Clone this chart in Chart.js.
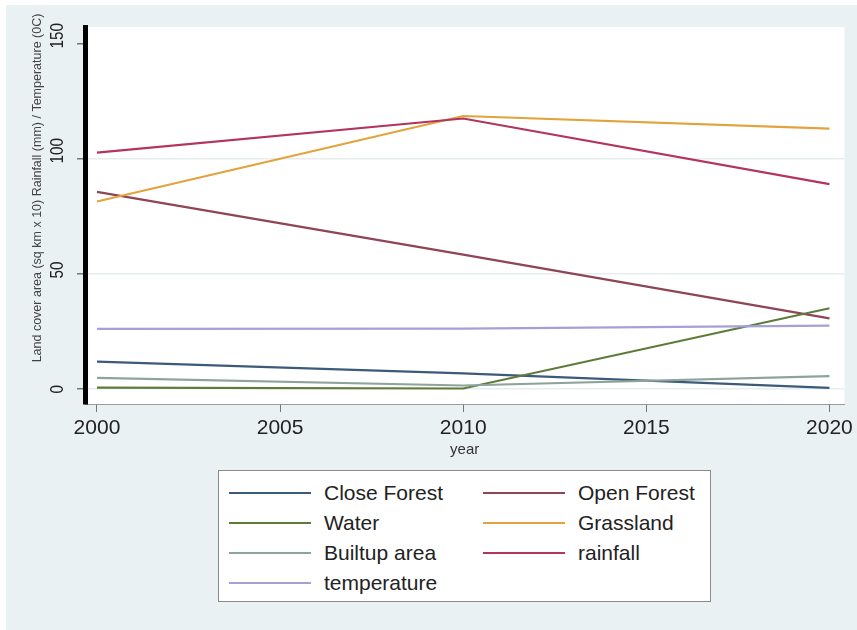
<!DOCTYPE html>
<html>
<head>
<meta charset="utf-8">
<script src="https://cdn.jsdelivr.net/npm/chart.js@4/dist/chart.umd.min.js"></script>
<style>
  html, body { margin: 0; padding: 0; background: #fff; }
  #wrap { position: relative; width: 857px; height: 630px; }
  #chart { position: absolute; left: 0; top: 0; }
  #legend {
    position: absolute; left: 218px; top: 470px; width: 493px; height: 132px;
    background: #fff; border: 1px solid #8a8a8a; box-sizing: border-box;
    font-family: "Liberation Sans", Arial, sans-serif; font-size: 21px; color: #222;
  }
  .item { position: absolute; height: 24px; line-height: 24px; white-space: nowrap; }
  .item .swatch { position: absolute; top: 11px; height: 2px; width: 82px; left: 0; }
  .item .label { position: absolute; left: 95px; top: 0; }
</style>
</head>
<body>
<div id="wrap">
  <canvas id="chart" width="857" height="630"></canvas>
  <div id="legend"></div>
</div>
<script>
// datos
const years = [2000, 2010, 2020];
const closeForest = [11.7, 6.6, 0.3];
const openForest = [85.5, 58.2, 30.5];
const water = [0.4, 0.0, 34.9];
const grassland = [81.3, 118.5, 113.0];
const builtup = [4.6, 1.3, 5.4];
const rainfall = [102.6, 117.4, 88.9];
const temperature = [25.9, 26.0, 27.3];

const seriesNames = ['Close Forest', 'Open Forest', 'Water', 'Grassland', 'Builtup area', 'rainfall', 'temperature'];
const seriesValues = [closeForest, openForest, water, grassland, builtup, rainfall, temperature];
const seriesColors = ['#3c5a7a', '#8e4656', '#5f7b3a', '#e3a23c', '#8ea399', '#b3345c', '#a6a0d6'];

const xTicks = [2000, 2005, 2010, 2015, 2020];
const yTicks = [0, 50, 100, 150];
const yTitle = 'Land cover area (sq km x 10) Rainfall (mm) / Temperature (0C)';
const xTitle = 'year';

const FONT = '"Liberation Sans", Arial, sans-serif';

// fondo estilo Stata + etiquetas verticales del eje y
const stataDecor = {
    id: 'stataDecor',
    beforeDraw(chart) {
        const ctx = chart.ctx;
        const a = chart.chartArea;
        ctx.save();
        ctx.fillStyle = '#eaf1f3';
        ctx.fillRect(6, 5, chart.width - 6, chart.height - 5);
        ctx.fillStyle = '#ffffff';
        ctx.fillRect(a.left, a.top, a.right - a.left, a.bottom - a.top);
        ctx.restore();
    },
    afterDraw(chart) {
        const ctx = chart.ctx;
        const y = chart.scales.y;
        ctx.save();
        ctx.fillStyle = '#222';
        ctx.font = '18px ' + FONT;
        ctx.textBaseline = 'middle';
        ctx.textAlign = 'left';
        yTicks.forEach(v => {
            const py = y.getPixelForValue(v);
            ctx.save();
            ctx.translate(58, py + 5);
            ctx.rotate(-Math.PI / 2);
            ctx.scale(0.85, 1);
            ctx.fillText(String(v), 0, 0);
            ctx.restore();
        });
        // titulo del eje y
        ctx.fillStyle = '#444';
        ctx.font = '12.5px ' + FONT;
        ctx.textAlign = 'center';
        ctx.translate(38, 188);
        ctx.rotate(-Math.PI / 2);
        ctx.fillText(yTitle, 0, 0);
        ctx.restore();
    }
};

const datasets = seriesNames.map((name, i) => ({
    label: name,
    data: years.map((yr, j) => ({ x: yr, y: seriesValues[i][j] })),
    borderColor: seriesColors[i],
    backgroundColor: seriesColors[i],
    borderWidth: 2.2,
    pointRadius: 0,
    tension: 0,
    fill: false,
    order: seriesNames.length - i // las ultimas series encima, como en Stata
}));

const chart = new Chart(document.getElementById('chart'), {
    type: 'line',
    data: { datasets: datasets },
    options: {
        responsive: false,
        animation: false,
        layout: { padding: { top: 27, right: 10, left: 0, bottom: 0 } },
        plugins: {
            legend: { display: false },
            tooltip: { enabled: false }
        },
        scales: {
            x: {
                type: 'linear',
                min: 1999.673,
                max: 2020.408,
                afterFit: s => { s.height = 226; },
                afterBuildTicks: s => { s.ticks = xTicks.map(v => ({ value: v })); },
                grid: { drawOnChartArea: false, drawTicks: true, tickLength: 8, tickColor: '#777' },
                border: { color: '#9a9a9a', width: 1 },
                ticks: {
                    color: '#222',
                    font: { family: FONT, size: 21 },
                    padding: 4,
                    maxRotation: 0,
                    callback: v => String(v)
                },
                title: {
                    display: true,
                    text: xTitle,
                    color: '#333',
                    font: { family: FONT, size: 15 },
                    padding: { top: 0, bottom: 171 }
                }
            },
            y: {
                type: 'linear',
                min: -6.74,
                max: 157.2,
                afterFit: s => { s.width = 85; },
                afterBuildTicks: s => { s.ticks = yTicks.map(v => ({ value: v })); },
                grid: {
                    drawOnChartArea: true,
                    drawTicks: true,
                    tickLength: 8,
                    tickColor: '#777',
                    color: ctx => (ctx.tick && ctx.tick.value === 150) ? 'rgba(0,0,0,0)' : '#e6eef0',
                    lineWidth: 1.5
                },
                border: { color: '#000', width: 5 },
                ticks: { display: false }
            }
        }
    },
    plugins: [stataDecor]
});

// leyenda en HTML, dos columnas
const legendEl = document.getElementById('legend');
chart.data.datasets.forEach((ds, i) => {
    const col = i % 2;
    const row = Math.floor(i / 2);
    const item = document.createElement('div');
    item.className = 'item';
    item.style.left = (col === 0 ? 10 : 264) + 'px';
    item.style.top = (10 + row * 30) + 'px';
    const sw = document.createElement('span');
    sw.className = 'swatch';
    sw.style.background = ds.borderColor;
    const lb = document.createElement('span');
    lb.className = 'label';
    lb.textContent = ds.label;
    item.appendChild(sw);
    item.appendChild(lb);
    legendEl.appendChild(item);
});
</script>
</body>
</html>
